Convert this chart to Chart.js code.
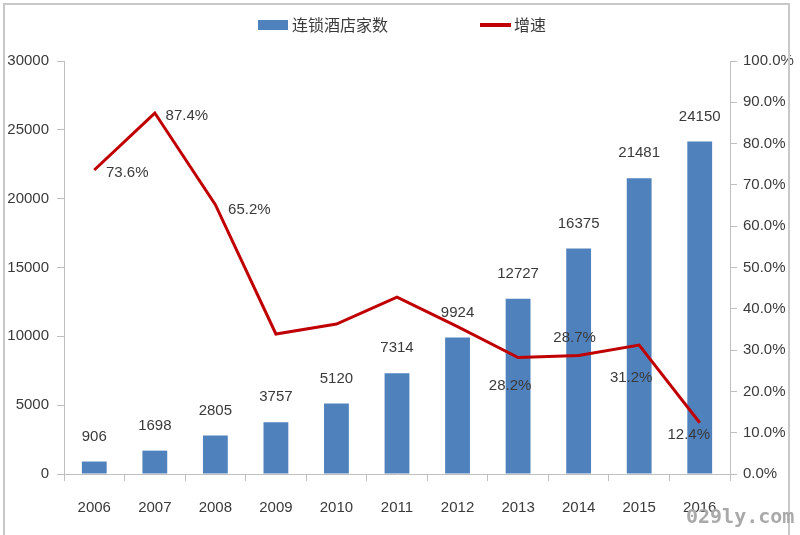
<!DOCTYPE html>
<html><head><meta charset="utf-8">
<script src="https://cdn.jsdelivr.net/npm/chart.js@4"></script>
<style>
html,body{margin:0;padding:0;background:#fff;}
#wrap{position:relative;width:800px;height:535px;overflow:hidden;}
#frame{position:absolute;left:3px;top:3px;width:787px;height:560px;border:2px solid #c8c8c8;box-sizing:border-box;pointer-events:none;}
#wm{position:absolute;left:686px;top:504px;font:bold 20px "DejaVu Sans Mono",monospace;color:#a9a9a9;}
</style></head>
<body><div id="wrap"><canvas id="c" width="800" height="535"></canvas><div id="frame"></div><div id="wm">029ly.com</div></div>
<script>
const categories = ['2006','2007','2008','2009','2010','2011','2012','2013','2014','2015','2016'];
const hotelCounts = [906,1698,2805,3757,5120,7314,9924,12727,16375,21481,24150];
const growthRates = [73.6,87.4,65.2,33.9,36.3,42.8,35.7,28.2,28.7,31.2,12.4];
const growthLabels = ['73.6%','87.4%','65.2%',null,null,null,null,'28.2%','28.7%','31.2%','12.4%'];
const seriesNames = ['连锁酒店家数','增速'];

const FONT = "'Liberation Sans',Arial,sans-serif";
const FS = 15;
const TXT = '#3a3a3a';
const AX = '#bfbfbf';
// label offsets for growth labels (style only)
const growthOffsets = [[33,3],[32,3],[34,5],null,null,null,null,[-8,28],[-4,-18],[-8,33],[-11,12]];

const labelPlugin = {
  id:'labels',
  afterDatasetsDraw(chart){
    const ctx = chart.ctx;
    ctx.save();
    ctx.font = FS + 'px ' + FONT;
    ctx.fillStyle = TXT;
    ctx.textAlign = 'center';
    ctx.textBaseline = 'middle';
    const bm = chart.getDatasetMeta(0);
    bm.data.forEach((el,i)=>{ ctx.fillText(String(hotelCounts[i]), el.x, el.y - 25); });
    const lm = chart.getDatasetMeta(1);
    lm.data.forEach((el,i)=>{
      if(!growthLabels[i]) return;
      const o = growthOffsets[i];
      ctx.fillText(growthLabels[i], el.x + o[0], el.y + o[1]);
    });
    ctx.restore();
  }
};
const legendPlugin = {
  id:'customLegend',
  afterDraw(chart){
    const ctx = chart.ctx;
    ctx.save();
    ctx.fillStyle = '#4F81BD';
    ctx.fillRect(258,20,30,10);
    ctx.strokeStyle = '#C00000';
    ctx.lineWidth = 4;
    ctx.beginPath(); ctx.moveTo(480,25); ctx.lineTo(511,25); ctx.stroke();
    ctx.font = "16px 'Noto Sans CJK SC',sans-serif";
    ctx.fillStyle = TXT;
    ctx.textBaseline = 'middle';
    ctx.textAlign = 'left';
    ctx.fillText(seriesNames[0], 292, 25);
    ctx.fillText(seriesNames[1], 514, 25);
    ctx.restore();
  }
};

new Chart(document.getElementById('c'), {
  data:{
    labels: categories,
    datasets:[
      {type:'bar', label:seriesNames[0], data:hotelCounts, backgroundColor:'#4F81BD', yAxisID:'y', order:1,
       categoryPercentage:1.0, barPercentage:0.41},
      {type:'line', label:seriesNames[1], data:growthRates, borderColor:'#C00000', borderWidth:3, pointRadius:0,
       tension:0, yAxisID:'y1', order:0, fill:false}
    ]
  },
  options:{
    responsive:false, animation:false, devicePixelRatio:1,
    layout:{padding:{top:61,left:0,right:0,bottom:0}},
    plugins:{legend:{display:false}, tooltip:{enabled:false}},
    scales:{
      x:{offset:true,
         grid:{display:true, drawOnChartArea:false, offset:true, tickLength:7, color:AX},
         border:{color:AX, width:1},
         ticks:{font:{family:FONT,size:FS}, color:TXT, padding:18, maxRotation:0},
         afterFit(s){ s.height = 61; }},
      y:{position:'left', min:0, max:30000,
         grid:{drawOnChartArea:false, tickLength:7, color:AX},
         border:{color:AX, width:1},
         ticks:{stepSize:5000, font:{family:FONT,size:FS}, color:TXT, padding:8, callback:v=>String(v)},
         afterFit(s){ s.width = 64; }},
      y1:{position:'right', min:0, max:100,
         grid:{drawOnChartArea:false, tickLength:7, color:AX},
         border:{color:AX, width:1},
         ticks:{stepSize:10, font:{family:FONT,size:FS}, color:TXT, padding:6, callback:v=>v.toFixed(1)+'%'},
         afterFit(s){ s.width = 70; }}
    }
  },
  plugins:[labelPlugin, legendPlugin]
});
</script>
</body></html>
